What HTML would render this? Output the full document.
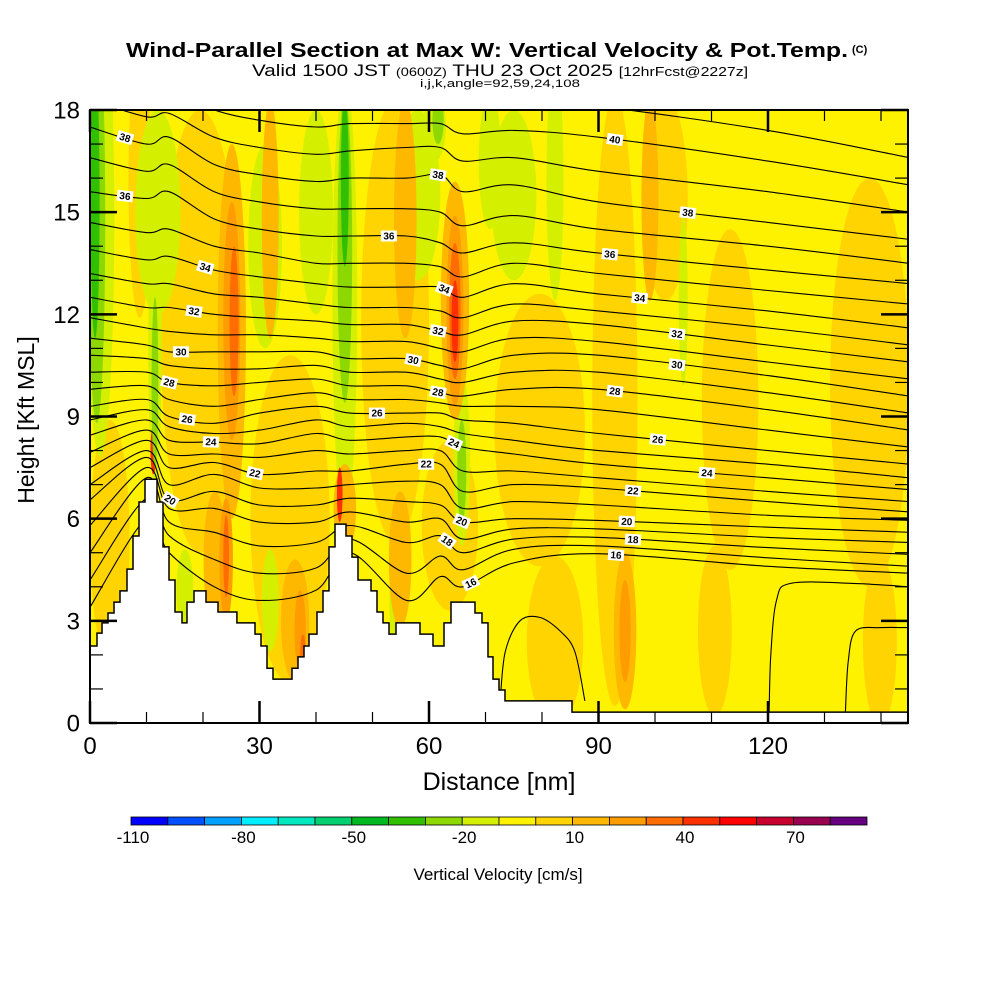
<!DOCTYPE html>
<html><head><meta charset="utf-8"><style>
html,body{margin:0;padding:0;background:#fff;}
svg{display:block;font-family:"Liberation Sans",sans-serif;}
</style></head><body>
<svg id="chart" width="1000" height="1000" viewBox="0 0 1000 1000" xmlns="http://www.w3.org/2000/svg">
<defs><clipPath id="plotclip"><rect x="90" y="110" width="818" height="613"/></clipPath></defs>
<text x="487" y="57" text-anchor="middle" font-size="20" font-weight="bold" textLength="722" lengthAdjust="spacingAndGlyphs">Wind-Parallel Section at Max W: Vertical Velocity &amp; Pot.Temp.</text>
<text x="852" y="53" font-size="11" font-weight="bold">(C)</text>
<text x="500" y="76" text-anchor="middle" font-size="17" textLength="496" lengthAdjust="spacingAndGlyphs">Valid 1500 JST <tspan font-size="12">(0600Z)</tspan> THU 23 Oct 2025 <tspan font-size="13">[12hrFcst@2227z]</tspan></text>
<text x="500" y="87" text-anchor="middle" font-size="11" textLength="160" lengthAdjust="spacingAndGlyphs">i,j,k,angle=92,59,24,108</text>
<g id="field" clip-path="url(#plotclip)"></g>
<g id="isen" clip-path="url(#plotclip)"></g>
<g id="terrain"></g>
<g id="labels"></g>
<g id="axes"></g>
<g id="cbar"></g>
<text x="499" y="790" text-anchor="middle" font-size="25">Distance [nm]</text>
<text transform="translate(34,420) rotate(-90)" text-anchor="middle" font-size="23">Height [Kft MSL]</text>
<text x="498" y="880" text-anchor="middle" font-size="17">Vertical Velocity [cm/s]</text>
</svg>
<script>
// ---- data ----
const xTicks = [0, 30, 60, 90, 120];
const yTicks = [0, 3, 6, 9, 12, 15, 18];
const cbarLevels = [-110,-100,-90,-80,-70,-60,-50,-40,-30,-20,-10,0,10,20,30,40,50,60,70,80,90];
const cbarColors = ["#0000ff","#0050ff","#00a0ff","#00eeff","#00e8c0","#00d070","#00b820","#30c000","#8cd800","#d4f000","#fff200","#ffd400","#ffb800","#ff9c00","#ff6c00","#ff3000","#ff0000","#c80030","#9a0050","#640080"];
const cbarLabels = [-110, -80, -50, -20, 10, 40, 70];
// terrain: step edges (nm) and heights (kft) for each step
const terrainEdges = [0,1.24,2.12,3.19,4.25,5.31,6.55,7.61,8.67,9.73,11.86,12.92,13.98,15.04,16.28,17.17,18.41,20.53,22.65,26.0,29.2,30.27,31.33,32.39,35.75,36.81,37.88,38.76,40.18,41.24,42.30,43.36,45.31,46.37,47.43,49.73,50.80,51.86,52.92,54.16,58.41,60.71,62.65,63.89,68.14,69.38,70.44,71.33,72.39,73.45,85.31,145];
const terrainHeights = [2.26,2.64,2.94,3.23,3.55,3.88,4.52,5.49,6.49,7.16,6.49,5.17,4.20,3.26,2.94,3.55,3.88,3.55,3.26,2.94,2.61,2.26,1.61,1.29,1.61,1.94,2.26,2.61,3.26,3.88,5.17,5.84,5.49,4.87,4.20,3.88,3.26,2.94,2.61,2.94,2.61,2.26,2.94,3.55,3.23,2.94,1.94,1.29,0.97,0.65,0.32];
// isentropes: theta levels, and heights (kft) of each level at each control distance
const thetaLevels = [16,17,18,19,20,21,22,23,24,25,26,27,28,29,30,31,32,33,34,35,36,37,38,39,40,41];
const ctrlDist = [0,10,14,22,30,40,46,56,62,66,75,90,120,145];
const hAt0   = [3.4,4.2,5.0,5.8,6.55,7.0,7.5,7.95,8.45,8.9,9.3,9.8,10.3,10.8,11.3,11.9,12.5,13.2,13.9,14.7,15.6,16.6,17.5,18.3,19.0,19.6];
const hAt10  = [6.0,6.6,7.2,7.5,7.8,8.0,8.3,8.6,8.9,9.2,9.5,9.9,10.3,10.7,11.1,11.6,12.2,12.9,13.6,14.4,15.4,16.2,17.0,17.8,18.5,19.2];
const hAt14  = [5.0,5.5,5.9,6.3,6.55,7.0,7.5,7.9,8.3,8.7,9.0,9.5,10.0,10.5,10.9,11.5,12.2,12.9,13.7,14.5,15.6,16.4,17.2,17.9,18.6,19.2];
const hAt22  = [4.0,4.8,5.6,6.3,6.8,7.3,7.65,7.9,8.25,8.5,8.8,9.3,9.9,10.4,10.9,11.4,12.0,12.6,13.3,14.0,14.8,15.6,16.4,17.2,18.0,18.8];
const hAt30  = [3.6,4.4,5.2,5.9,6.4,6.9,7.3,7.8,8.2,8.6,9.1,9.5,10.0,10.4,10.9,11.4,11.9,12.5,13.1,13.8,14.5,15.3,16.1,16.9,17.7,18.5];
const hAt40  = [3.9,4.55,5.3,5.9,6.4,6.9,7.4,8.0,8.5,8.9,9.3,9.7,10.1,10.5,10.9,11.3,11.8,12.3,12.9,13.5,14.3,15.1,15.9,16.7,17.5,18.3];
const hAt46  = [5.0,5.4,5.8,6.2,6.6,7.0,7.4,7.9,8.3,8.7,9.1,9.5,9.9,10.3,10.7,11.2,11.7,12.2,12.8,13.5,14.3,15.1,16.0,16.8,17.6,18.4];
const hAt56  = [3.6,4.4,5.3,5.9,6.5,7.1,7.6,8.0,8.4,8.8,9.1,9.5,9.9,10.3,10.7,11.2,11.7,12.2,12.8,13.5,14.3,15.1,16.0,16.9,17.6,18.4];
const hAt62  = [4.3,4.9,5.5,6.0,6.4,7.0,7.6,8.0,8.4,8.7,9.1,9.4,9.7,10.1,10.5,11.0,11.5,12.1,12.8,13.4,14.1,15.0,16.1,16.9,17.6,18.3];
const hAt66  = [4.0,4.5,5.0,5.4,5.9,6.3,6.8,7.4,8.1,8.5,8.9,9.3,9.6,10.0,10.4,10.9,11.4,11.9,12.5,13.1,13.8,14.6,15.6,16.5,17.3,18.1];
const hAt75  = [4.7,5.1,5.4,5.7,6.0,6.5,7.0,7.4,7.9,8.3,8.8,9.3,9.8,10.3,10.8,11.3,11.8,12.3,12.9,13.5,14.1,14.9,15.8,16.6,17.4,18.2];
const hAt90  = [4.97,5.2,5.45,5.7,5.95,6.4,6.9,7.2,7.6,8.0,8.5,9.2,9.8,10.3,10.8,11.2,11.7,12.1,12.6,13.2,13.8,14.5,15.3,16.2,17.2,18.1];
const hAt120 = [4.6,4.85,5.15,5.45,5.75,6.1,6.5,6.8,7.2,7.6,8.0,8.6,9.2,9.7,10.2,10.6,11.1,11.6,12.1,12.7,13.3,14.0,14.7,15.6,16.5,17.4];
const hAt145 = [4.4,4.6,4.95,5.3,5.6,5.95,6.2,6.5,6.85,7.2,7.6,8.1,8.6,9.1,9.6,10.1,10.6,11.1,11.6,12.3,12.9,13.5,14.2,15.0,15.8,16.6];
const heightCols = [hAt0,hAt10,hAt14,hAt22,hAt30,hAt40,hAt46,hAt56,hAt62,hAt66,hAt75,hAt90,hAt120,hAt145];
// extra low-level closed contours: [nm,kft] points
const lowContourA = [[72.6,0.65],[73.5,2.1],[76.1,3.0],[79.6,3.1],[83.2,2.7],[85.8,2.1],[87.6,0.65]];
const lowContourB = [[133.7,0.32],[134.2,1.8],[135.5,2.7],[140,2.8],[145,2.8]];
const lowContourC = [[120.2,0.32],[120.5,2.0],[121.5,3.6],[124,4.1],[135,4.1],[145,4.0]];
// contour labels: theta, distance nm
const labelTheta = [38,36,34,32,30,28,26,24,22,20, 38,36,34,32,30,28,26,24,22,20,18,16, 40,38,36,34,32,30,28,26,24,22,20,18,16];
const labelDist  = [6.2,6.2,20.4,18.4,16.1,14,17.2,21.4,29.2,14.2, 61.6,52.9,62.7,61.6,57.2,61.6,50.8,64.4,59.5,65.8,63.2,67.4, 92.9,105.8,92,97.3,103.9,103.9,92.9,100.5,109.2,96.1,95,96.1,93.1];
// velocity blobs: center nm, center kft, half-width nm, half-height kft, value cm/s
const blobDist   = [3.5,19.5,35.4,54,63.7,79.6,92.9,101.8,113.3,138,82.3,110.6,139.8,8.8, 12,31,40,58,75, 1.8,11.5,45.1,65.8,70.8,82.3,61,31.9,16.8,54,105, 25.1,31.9,55.8,94.7,64.6,22.1,36.3,99.1,54.9,45.1, 25.1,24.1,94.7,37.2,64.6, 25.5,24.1,64.6,37.7, 64.6,44.2,11.2, 1.2,11.5,45.1,65.8,61.6, 0.9,45.1];
const blobKft    = [5.4,11.5,6.0,11.8,5.8,8.6,9.5,15.4,9.5,10,2.4,2.7,2.4,15.9, 15,14,15,15.5,15.5, 14.8,11,12.4,7.7,16.5,15.9,17.5,3.6,3.9,3.6,12.4, 11.5,14.8,14.8,2.7,12.4,4.8,3.0,15.4,4.8,6.3, 11.8,4.8,2.7,2.7,12.1, 11.8,4.9,12.1,2.0, 11.8,6.7,8.0, 14.8,10,13.9,7.4,17.7, 15.3,15.9];
const blobHalfW  = [3.5,7,7,6,5,8,4,4,5,7,5,3,3,2, 4,3,3,4,4, 2.5,1.2,2.2,1.5,2,1.5,2,1.5,1.5,1,0.8, 2.5,1.5,2,2,2.5,2,2.5,1.5,2,2, 1.5,1.2,1,1,1.5, 0.8,0.5,1.0,0.5, 0.6,0.5,0.5, 1.5,0.6,1.3,0.8,1, 0.8,0.7];
const blobHalfH  = [3.5,6.5,4.8,6.5,2.5,4,9,3,5,6,2.5,2.5,2.5,4, 3,3,3,2.5,2.5, 7,4,6.5,2.5,2,3.5,1,1.5,1.2,1.5,2.5, 5.5,3.5,3.5,2.3,3.5,2,1.8,3,2,1.3, 3.5,1.8,1.5,1.2,2.8, 2.2,1.2,2.0,0.6, 1.2,0.8,0.7, 6,2.5,4.5,1.5,0.7, 4,2.5];
const blobValue  = [5,5,5,5,5,5,5,5,5,5,5,5,5,5, -15,-15,-15,-15,-15, -15,-15,-15,-15,-15,-15,-15,-15,-15,-15,-15, 15,15,15,15,15,15,15,15,15,15, 25,25,25,25,25, 35,35,35,35, 45,45,45, -25,-25,-25,-25,-25, -35,-35];

// ---- scales ----
const X0 = 90, X1 = 908, Y0 = 723, Y1 = 110;
const pxPerNm = (768 - 90) / 120;
const pxPerKft = (723 - 110) / 18;
const xS = d => X0 + d * pxPerNm;
const yS = h => Y0 - h * pxPerKft;
const NS = "http://www.w3.org/2000/svg";
function mk(tag, attrs, parent) { const e = document.createElementNS(NS, tag); for (const k in attrs) e.setAttribute(k, attrs[k]); parent.appendChild(e); return e; }
function colorFor(v) { let i = 0; while (i < cbarColors.length - 1 && v >= cbarLevels[i + 1]) i++; return cbarColors[i]; }

// ---- field ----
const field = document.getElementById('field');
const bg = mk('rect', {x: X0, y: Y1, width: X1 - X0, height: Y0 - Y1, fill: '#fff200'}, field);


for (let i = 0; i < blobDist.length; i++) {
  const e = mk('ellipse', {cx: xS(blobDist[i]), cy: yS(blobKft[i]), rx: blobHalfW[i] * pxPerNm, ry: blobHalfH[i] * pxPerKft, fill: colorFor(blobValue[i])}, field);
  
  
}

// ---- isentropes ----
function crPath(pts) {
  let d = 'M' + pts[0][0].toFixed(1) + ',' + pts[0][1].toFixed(1);
  for (let i = 0; i < pts.length - 1; i++) {
    const p0 = pts[Math.max(0, i - 1)], p1 = pts[i], p2 = pts[i + 1], p3 = pts[Math.min(pts.length - 1, i + 2)];
    const c1 = [p1[0] + (p2[0] - p0[0]) / 6, p1[1] + (p2[1] - p0[1]) / 6];
    const c2 = [p2[0] - (p3[0] - p1[0]) / 6, p2[1] - (p3[1] - p1[1]) / 6];
    d += 'C' + c1[0].toFixed(1) + ',' + c1[1].toFixed(1) + ' ' + c2[0].toFixed(1) + ',' + c2[1].toFixed(1) + ' ' + p2[0].toFixed(1) + ',' + p2[1].toFixed(1);
  }
  return d;
}
const isen = document.getElementById('isen');
function levelPts(li) { return ctrlDist.map((d, j) => [xS(d), yS(heightCols[j][li])]); }
for (let li = 0; li < thetaLevels.length; li++) {
  const p = mk('path', {d: crPath(levelPts(li)), fill: 'none', stroke: '#000', 'stroke-width': 1.1}, isen);
  
  
}
[lowContourA, lowContourB, lowContourC].forEach(c => {
  const p = mk('path', {d: crPath(c.map(q => [xS(q[0]), yS(q[1])])), fill: 'none', stroke: '#000', 'stroke-width': 1.1}, isen);
  
  
});

// ---- terrain ----
const ter = document.getElementById('terrain');
let td = 'M' + xS(0) + ',' + Y0;
for (let i = 0; i < terrainHeights.length; i++) {
  td += ' L' + xS(terrainEdges[i]).toFixed(1) + ',' + yS(terrainHeights[i]).toFixed(1) + ' L' + xS(terrainEdges[i + 1]).toFixed(1) + ',' + yS(terrainHeights[i]).toFixed(1);
}
td += ' L' + X1 + ',' + Y0 + ' Z';
const tp = mk('path', {d: td, fill: '#fff', stroke: '#000', 'stroke-width': 1.5, 'clip-path': 'url(#plotclip)'}, ter);



// ---- contour labels ----
function interpH(li, d) {
  for (let j = 0; j < ctrlDist.length - 1; j++) {
    if (d >= ctrlDist[j] && d <= ctrlDist[j + 1]) {
      const t = (d - ctrlDist[j]) / (ctrlDist[j + 1] - ctrlDist[j]);
      return heightCols[j][li] * (1 - t) + heightCols[j + 1][li] * t;
    }
  }
  return heightCols[ctrlDist.length - 1][li];
}
const lab = document.getElementById('labels');
for (let i = 0; i < labelTheta.length; i++) {
  const li = thetaLevels.indexOf(labelTheta[i]);
  if (li < 0) continue;
  const d = labelDist[i];
  const x = xS(d), y = yS(interpH(li, d));
  if (y < 116) continue;
  const dy = yS(interpH(li, d + 1)) - yS(interpH(li, d - 1));
  let ang = Math.atan2(dy, 2 * pxPerNm) * 180 / Math.PI;
  ang = Math.max(-35, Math.min(35, ang));
  const g = mk('g', {transform: 'translate(' + x.toFixed(1) + ',' + y.toFixed(1) + ') rotate(' + ang.toFixed(1) + ')'}, lab);
  
  
  mk('rect', {x: -8, y: -5.5, width: 16, height: 11, fill: '#fff'}, g);
  const t = mk('text', {x: 0, y: 3.5, 'text-anchor': 'middle', 'font-size': 10, 'font-weight': 'bold', fill: '#000'}, g);
  t.textContent = labelTheta[i];
}

// ---- axes ----
const ax = document.getElementById('axes');
const frame = mk('rect', {x: X0, y: Y1, width: X1 - X0, height: Y0 - Y1, fill: 'none', stroke: '#000', 'stroke-width': 2}, ax);


for (let d = 0; d <= 140; d += 10) {
  const major = xTicks.includes(d);
  const len = major ? 22 : 11, w = major ? 2.5 : 1.2;
  const xp = xS(d);
  const t1 = mk('line', {x1: xp, y1: Y0, x2: xp, y2: Y0 - len, stroke: '#000', 'stroke-width': w}, ax);
  
  
  const t2 = mk('line', {x1: xp, y1: Y1, x2: xp, y2: Y1 + len, stroke: '#000', 'stroke-width': w}, ax);
  
  
}
xTicks.forEach(d => {
  const t = mk('text', {x: xS(d), y: 754, 'text-anchor': 'middle', 'font-size': 24}, ax);
  
  
  t.textContent = d;
});
for (let h = 0; h <= 18; h += 1) {
  const major = yTicks.includes(h);
  const len = major ? 27 : 13, w = major ? 2.5 : 1.2;
  const yp = yS(h);
  const t1 = mk('line', {x1: X0, y1: yp, x2: X0 + len, y2: yp, stroke: '#000', 'stroke-width': w}, ax);
  
  
  const t2 = mk('line', {x1: X1, y1: yp, x2: X1 - len, y2: yp, stroke: '#000', 'stroke-width': w}, ax);
  
  
}
yTicks.forEach(h => {
  const t = mk('text', {x: 80, y: yS(h) + 8.5, 'text-anchor': 'end', 'font-size': 24}, ax);
  
  
  t.textContent = h;
});

// ---- colorbar ----
const cb = document.getElementById('cbar');
const cbX0 = 131, cbX1 = 867, cbY = 817, cbH = 8;
const bw = (cbX1 - cbX0) / cbarColors.length;
cbarColors.forEach((c, i) => {
  const r = mk('rect', {x: cbX0 + i * bw, y: cbY, width: bw, height: cbH, fill: c, stroke: '#000', 'stroke-width': 0.8}, cb);
  
  
});
cbarLabels.forEach(v => {
  const i = cbarLevels.indexOf(v);
  const t = mk('text', {x: cbX0 + i * bw + 2, y: 843, 'text-anchor': 'middle', 'font-size': 17}, cb);
  
  
  t.textContent = v;
});
</script>
</body></html>
